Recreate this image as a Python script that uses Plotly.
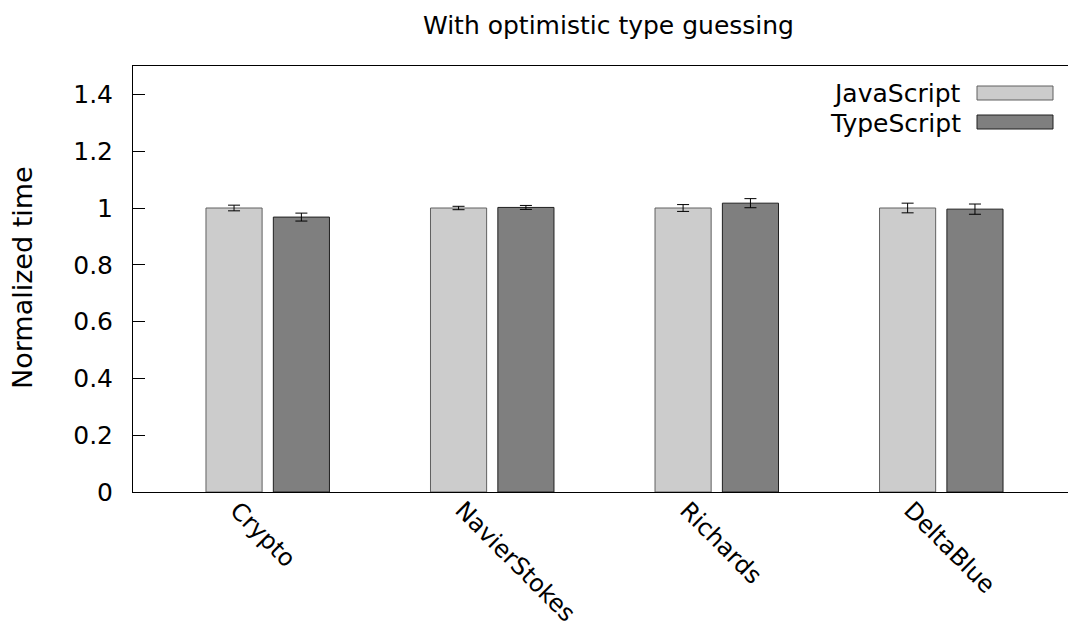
import plotly.graph_objects as go

categories = ["Crypto", "NavierStokes", "Richards", "DeltaBlue"]
js_values = [1.0, 1.0, 1.0, 1.0]
js_errors = [0.010, 0.006, 0.012, 0.017]
ts_values = [0.968, 1.002, 1.017, 0.996]
ts_errors = [0.014, 0.007, 0.016, 0.018]
y_ticks = [0, 0.2, 0.4, 0.6, 0.8, 1.0, 1.2, 1.4]
y_tick_labels = ["0", "0.2", "0.4", "0.6", "0.8", "1", "1.2", "1.4"]

FONT = "DejaVu Sans"
OFF = 8  # default body margin of the page
W, H = 1076 - OFF, 632 - OFF
L, R, T = 133 - OFF, 0, 66 - OFF
B = H - (492 - OFF)
pw = W - L - R
ph = H - T - B

xs = list(range(len(categories)))

fig = go.Figure()
fig.add_trace(go.Bar(
    x=xs, y=js_values, width=0.25, offset=-0.275,
    marker=dict(color="#cccccc", line=dict(color="#606060", width=1)),
    error_y=dict(type="data", array=js_errors, color="black", thickness=1, width=6),
    name="JavaScript", showlegend=False,
))
fig.add_trace(go.Bar(
    x=xs, y=ts_values, width=0.25, offset=0.025,
    marker=dict(color="#7f7f7f", line=dict(color="#202020", width=1)),
    error_y=dict(type="data", array=ts_errors, color="black", thickness=1, width=6),
    name="TypeScript", showlegend=False,
))
# invisible trace to drive the right-side mirror ticks
fig.add_trace(go.Scatter(x=[None], y=[None], yaxis="y2", showlegend=False))

# helpers: window pixel -> paper coordinates
def px_x(p):
    return (p - OFF - L) / pw

def px_y(p):
    return (H - B - (p - OFF)) / ph

# custom legend (text then sample box, gnuplot style)
legend_items = [("JavaScript", "#cccccc", "#606060", 86, 100),
                ("TypeScript", "#7f7f7f", "#202020", 115, 129)]
for name, fill, line, y0, y1 in legend_items:
    fig.add_shape(type="rect", xref="paper", yref="paper",
                  x0=px_x(977), x1=px_x(1053), y0=px_y(y1), y1=px_y(y0),
                  fillcolor=fill, line=dict(color=line, width=1))
    fig.add_annotation(text=name, xref="paper", yref="paper",
                       x=px_x(963), y=px_y((y0 + y1) / 2 + 1), xanchor="right", yanchor="middle",
                       showarrow=False, font=dict(family=FONT, size=25, color="black"))

# category labels, rotated
for i, c in enumerate(categories):
    fig.add_annotation(text=c, xref="x", yref="paper", x=xs[i], y=px_y(495),
                       xanchor="left", yanchor="top", xshift=-44, textangle=45,
                       showarrow=False, borderpad=0,
                       font=dict(family=FONT, size=24, color="black"))

fig.add_annotation(text="Normalized time", xref="paper", yref="paper",
                   x=px_x(22), y=px_y(278), xanchor="center", yanchor="middle", textangle=-90,
                   showarrow=False, font=dict(family=FONT, size=27, color="black"))

fig.add_annotation(text="With optimistic type guessing", xref="paper", yref="paper",
                   x=px_x(608), y=px_y(26), xanchor="center", yanchor="middle",
                   showarrow=False, font=dict(family=FONT, size=25, color="black"))

fig.update_layout(
    width=W, height=H,
    margin=dict(l=L, r=R, t=T, b=B, autoexpand=False),
    paper_bgcolor="white", plot_bgcolor="white",
    font=dict(family=FONT, size=25, color="black"),
    barmode="overlay",
    xaxis=dict(range=[-0.6, 3.6], tickvals=xs, showticklabels=False,
               showline=True, linecolor="black", linewidth=1, mirror=True,
               ticks="", showgrid=False, zeroline=False),
    yaxis=dict(range=[0, 1.5], tickvals=y_ticks, ticktext=y_tick_labels,
               showline=True, linecolor="black", linewidth=1,
               ticks="inside", ticklen=12, tickcolor="black", tickwidth=1,
               ticklabelstandoff=14, showgrid=False, zeroline=False,
               tickfont=dict(family=FONT, size=25, color="black")),
    yaxis2=dict(range=[0, 1.5], tickvals=y_ticks, overlaying="y", side="right",
                showticklabels=False, ticks="inside", ticklen=4, tickcolor="black",
                showline=False, showgrid=False, zeroline=False),
)

fig.write_html("out.html")
